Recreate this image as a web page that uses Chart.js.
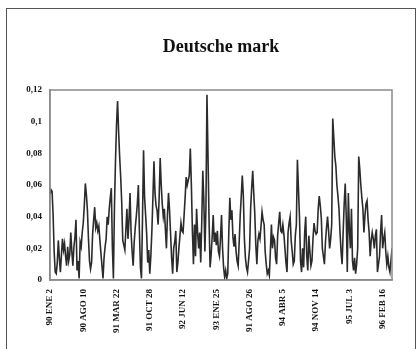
<!DOCTYPE html>
<html>
<head>
<meta charset="utf-8">
<script src="https://cdn.jsdelivr.net/npm/chart.js@4/dist/chart.umd.min.js"></script>
<style>
    html, body { margin: 0; padding: 0; background: #fff; }
    #wrap { position: relative; width: 416px; height: 349px; overflow: hidden; }
    #chart { position: absolute; left: 0; top: 0; }
    #frame {
        position: absolute; left: 6px; top: 8px; width: 408px; height: 345px;
        border: 1.5px solid #555; border-bottom: none; pointer-events: none;
    }
</style>
</head>
<body>
<div id="wrap">
    <canvas id="chart" width="416" height="349"></canvas>
    <div id="frame"></div>
</div>
<script>
// etiquetas del eje x (una cada 32 semanas)
const tickLabels = ['90 ENE 2', '90 AGO 10', '91 MAR 22', '91 OCT 28', '92 JUN 12', '93 ENE 25',
    '91 AGO 26', '94 ABR 5', '94 NOV 14', '95 JUL 3', '96 FEB 16'];
const tickEvery = 32;

// volatilidad semanal del marco alemán
const dmVol = [
    0.054, 0.057, 0.056, 0.041, 0.018, 0.005, 0.004, 0.011, 0.025, 0.014,
    0.005, 0.016, 0.026, 0.019, 0.023, 0.015, 0.009, 0.021, 0.012, 0.016,
    0.030, 0.018, 0.009, 0.021, 0.027, 0.038, 0.006, 0.012, 0.001, 0.024,
    0.021, 0.030, 0.036, 0.047, 0.061, 0.054, 0.044, 0.026, 0.012, 0.007,
    0.011, 0.029, 0.038, 0.046, 0.033, 0.036, 0.031, 0.034, 0.025, 0.017,
    0.009, 0.001, 0.014, 0.021, 0.026, 0.040, 0.035, 0.045, 0.052, 0.058,
    0.021, 0.001, 0.046, 0.075, 0.098, 0.113, 0.094, 0.078, 0.065, 0.049,
    0.025, 0.022, 0.019, 0.032, 0.045, 0.026, 0.038, 0.055, 0.030, 0.018,
    0.009, 0.024, 0.033, 0.040, 0.048, 0.060, 0.031, 0.008, 0.001, 0.040,
    0.082, 0.052, 0.041, 0.029, 0.011, 0.019, 0.004, 0.015, 0.031, 0.052,
    0.075, 0.055, 0.047, 0.044, 0.035, 0.052, 0.077, 0.060, 0.048, 0.040,
    0.045, 0.032, 0.020, 0.041, 0.055, 0.044, 0.029, 0.014, 0.004, 0.020,
    0.024, 0.031, 0.005, 0.011, 0.020, 0.028, 0.036, 0.031, 0.030, 0.041,
    0.052, 0.065, 0.060, 0.063, 0.066, 0.083, 0.060, 0.031, 0.010, 0.035,
    0.015, 0.045, 0.030, 0.020, 0.030, 0.011, 0.037, 0.069, 0.050, 0.018,
    0.045, 0.117, 0.078, 0.038, 0.008, 0.016, 0.027, 0.041, 0.024, 0.030,
    0.022, 0.031, 0.018, 0.015, 0.026, 0.041, 0.020, 0.008, 0.002, 0.006,
    0.001, 0.004, 0.030, 0.052, 0.038, 0.044, 0.027, 0.021, 0.029, 0.018,
    0.012, 0.009, 0.024, 0.041, 0.053, 0.066, 0.053, 0.026, 0.014, 0.008,
    0.005, 0.012, 0.020, 0.045, 0.058, 0.069, 0.055, 0.042, 0.022, 0.010,
    0.025, 0.029, 0.026, 0.034, 0.043, 0.038, 0.035, 0.018, 0.010, 0.004,
    0.006, 0.003, 0.018, 0.035, 0.020, 0.027, 0.025, 0.014, 0.010, 0.028,
    0.036, 0.043, 0.031, 0.030, 0.035, 0.029, 0.020, 0.011, 0.005, 0.030,
    0.036, 0.040, 0.025, 0.018, 0.010, 0.012, 0.028, 0.035, 0.076, 0.058,
    0.040, 0.012, 0.005, 0.020, 0.008, 0.030, 0.040, 0.015, 0.006, 0.028,
    0.018, 0.009, 0.012, 0.026, 0.036, 0.031, 0.029, 0.030, 0.045, 0.053,
    0.047, 0.039, 0.020, 0.015, 0.010, 0.024, 0.033, 0.040, 0.031, 0.020,
    0.026, 0.035, 0.102, 0.090, 0.078, 0.072, 0.060, 0.053, 0.045, 0.030,
    0.018, 0.010, 0.030, 0.048, 0.061, 0.040, 0.005, 0.055, 0.032, 0.020,
    0.045, 0.012, 0.006, 0.014, 0.004, 0.010, 0.020, 0.078, 0.070, 0.060,
    0.052, 0.045, 0.030, 0.041, 0.048, 0.050, 0.038, 0.030, 0.015, 0.025,
    0.030, 0.026, 0.020, 0.028, 0.032, 0.005, 0.010, 0.015, 0.030, 0.041,
    0.020, 0.026, 0.030, 0.018, 0.010, 0.015, 0.008, 0.005, 0.012, 0.020
];

const serif = "'Liberation Serif', 'DejaVu Serif', serif";

// marco gris alrededor del área del gráfico
const plotBox = {
    id: 'plotBox',
    afterDraw(chart) {
        const a = chart.chartArea, ctx = chart.ctx;
        ctx.save();
        ctx.strokeStyle = '#8a8a8a';
        ctx.lineWidth = 1.5;
        ctx.strokeRect(a.left, a.top, a.right - a.left, a.bottom - a.top);
        ctx.restore();
    }
};

const ctx = document.getElementById('chart').getContext('2d');
new Chart(ctx, {
    type: 'line',
    data: {
        datasets: [{
            data: dmVol.map((v, i) => ({ x: i, y: v })),
            borderColor: '#2b2b2b',
            borderWidth: 1.6,
            pointRadius: 0,
            tension: 0,
            fill: false
        }]
    },
    options: {
        responsive: false,
        animation: false,
        devicePixelRatio: 1,
        layout: { padding: { left: 0, right: 24, top: 0, bottom: 0 } },
        plugins: {
            legend: { display: false },
            tooltip: { enabled: false },
            title: {
                display: true,
                text: 'Deutsche mark',
                fullSize: false,
                color: '#111',
                font: { family: serif, size: 18, weight: 'bold' },
                padding: { top: 37, bottom: 31.4 }
            }
        },
        scales: {
            x: {
                type: 'linear',
                min: 0,
                max: dmVol.length - 1,
                afterFit: s => { s.height = 69; },
                afterBuildTicks: s => {
                    s.ticks = tickLabels.map((t, k) => ({ value: k * tickEvery }));
                },
                grid: { display: false, drawTicks: true, tickLength: 4, tickColor: '#777' },
                border: { display: true, color: '#8a8a8a', width: 1.5 },
                ticks: {
                    autoSkip: false,
                    maxRotation: 90,
                    minRotation: 90,
                    padding: 5,
                    color: '#111',
                    font: { family: serif, size: 9, weight: 'bold' },
                    callback: v => tickLabels[Math.round(v / tickEvery)]
                }
            },
            y: {
                min: 0,
                max: 0.12,
                afterFit: s => { s.width = 50; },
                grid: { display: false, drawTicks: true, tickLength: 5, tickColor: '#777' },
                border: { display: true, color: '#8a8a8a', width: 1.5 },
                ticks: {
                    stepSize: 0.02,
                    padding: 3,
                    color: '#111',
                    font: { family: serif, size: 9, weight: 'bold' },
                    callback: v => String(Math.round(v * 100) / 100).replace('.', ',')
                }
            }
        }
    },
    plugins: [plotBox]
});
</script>
</body>
</html>
